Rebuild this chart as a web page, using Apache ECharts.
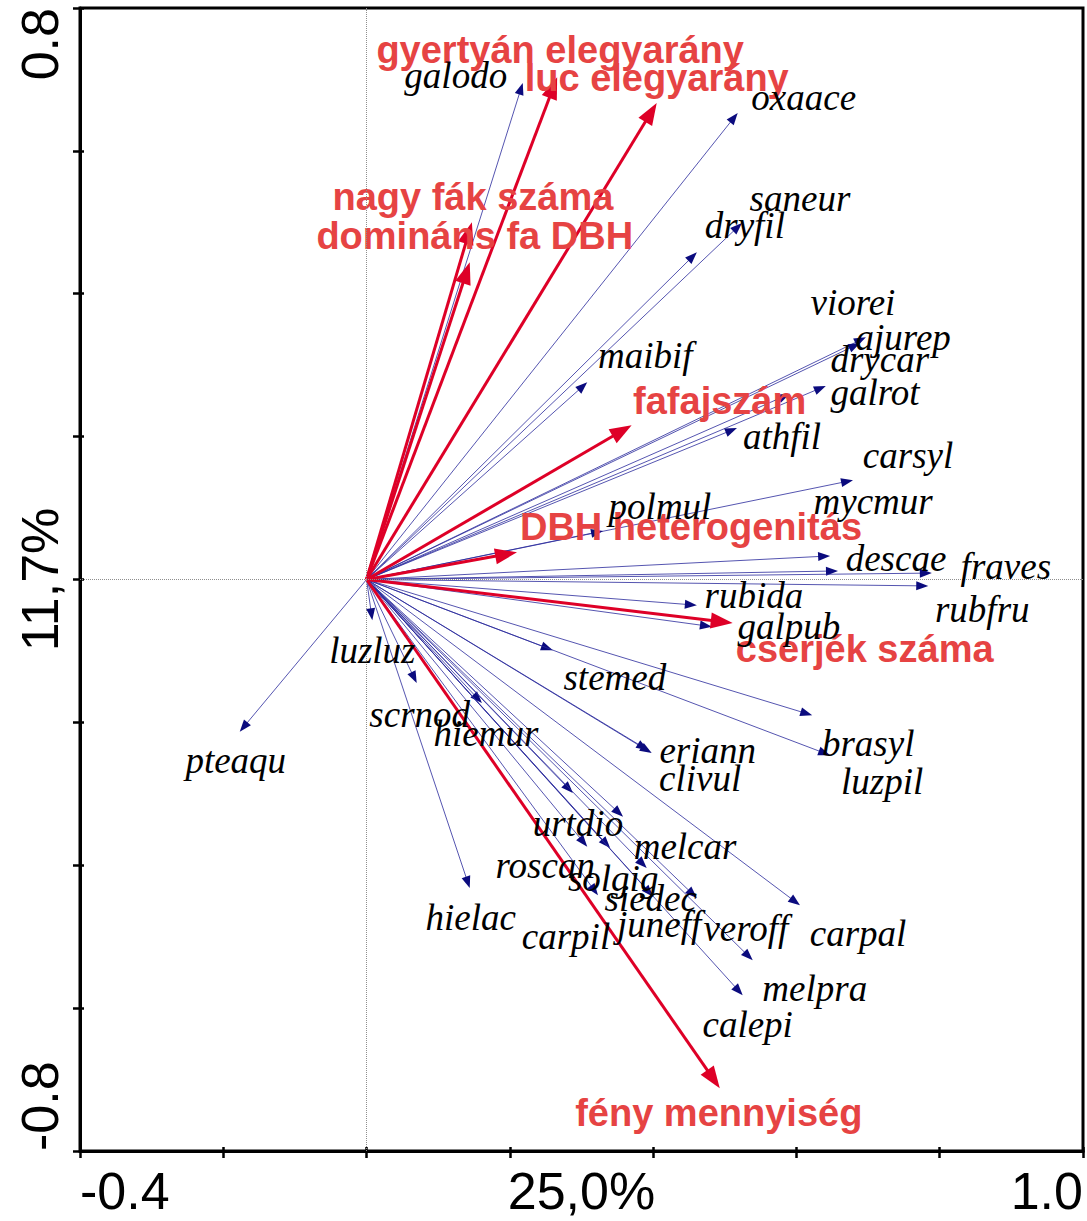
<!DOCTYPE html>
<html>
<head>
<meta charset="utf-8">
<script src="https://cdn.jsdelivr.net/npm/echarts@6/dist/echarts.min.js"></script>
<style>
  html, body { margin: 0; padding: 0; background: #fff; }
  #chart { width: 1087px; height: 1221px; }
</style>
</head>
<body>
<div id="chart"></div>
<script>
// Species scores (arrow tips) of the ordination biplot
const speciesNames = ['galodo','oxaace','saneur','dryfil','maibif','viorei','ajurep','drycar','galrot','athfil',
  'carsyl','mycmur','polmul','descae','fraves','rubfru','rubida','galpub','stemed','luzluz',
  'scrnod','hiemur','pteaqu','eriann','clivul','brasyl','luzpil','urtdio','melcar','roscan',
  'solgig','siedec','juneff','veroff','carpal','hielac','carpil','melpra','calepi'];
const speciesX = [0.218,0.518,0.524,0.461,0.308,0.697,0.689,0.641,0.591,0.517,
  0.679,0.647,0.330,0.658,0.789,0.784,0.461,0.482,0.260,0.008,
  0.070,0.161,-0.177,0.398,0.393,0.622,0.647,0.288,0.358,0.308,
  0.340,0.391,0.400,0.461,0.605,0.144,0.323,0.539,0.525];
const speciesY = [0.695,0.653,0.499,0.458,0.276,0.339,0.331,0.271,0.260,0.212,
  0.139,0.033,0.068,0.012,0.009,-0.009,-0.036,-0.066,-0.099,-0.057,
  -0.145,-0.173,-0.213,-0.243,-0.239,-0.190,-0.246,-0.299,-0.332,-0.374,
  -0.376,-0.404,-0.444,-0.446,-0.456,-0.432,-0.442,-0.533,-0.582];

// Environmental variables (explanatory arrows)
const envNames = ['gyertyán elegyarány','luc elegyarány','nagy fák száma','domináns fa DBH',
  'fafajszám','DBH heterogenitás','cserjék száma','fény mennyiség'];
const envX = [0.266,0.405,0.147,0.144,0.370,0.210,0.511,0.493];
const envY = [0.703,0.667,0.500,0.444,0.216,0.038,-0.061,-0.712];

// Axis ranges and the labelled ticks
const xRange = [-0.4, 1.0];
const yRange = [-0.8, 0.8];
const xTickLabels = ['-0.4', '1.0'];
const yTickLabels = ['-0.8', '0.8'];
const xAxisTitle = '25,0%';
const yAxisTitle = '11,7%';

// Label placement: pixel offset of each label centre from its arrow tip
const speciesLabelOffset = {
  galodo:[-67,-8], oxaace:[66,-16], saneur:[58,-25], dryfil:[48,-27], maibif:[58,-27],
  viorei:[-13,-35], ajurep:[43,-6], drycar:[54,-26], galrot:[85,-1], athfil:[45,8],
  carsyl:[55,-25], mycmur:[43,-54], polmul:[57,-24], descae:[58,-12], fraves:[74,-7],
  rubfru:[54,24], rubida:[57,-10], galpub:[77,0], stemed:[62,27], luzluz:[0,30],
  scrnod:[3,31], hiemur:[4,30], pteaqu:[-4,29], eriann:[56,-3], clivul:[52,28],
  brasyl:[56,28], luzpil:[52,26], urtdio:[5,30], melcar:[62,30], roscan:[-42,19],
  solgig:[3,30], siedec:[4,30], juneff:[6,28], veroff:[49,30], carpal:[58,28],
  hielac:[1,29], carpil:[-32,41], melpra:[62,28], calepi:[5,29]
};
const envLabelOffset = [[3,-27],[0,-25],[1,-25],[5,-26],[88,-24],[174,-25],[132,26],[-1,25]];

const SPECIES_LINE = '#2a2a9c';
const SPECIES_HEAD = '#0b0b7e';
const ENV_COLOR = '#de0027';
const ENV_TEXT = '#e64343';

function arrow(api, x, y, headLen, headHalf, lineWidth, lineColor, headColor) {
  const o = api.coord([0, 0]);
  const p = api.coord([x, y]);
  const dx = p[0] - o[0], dy = p[1] - o[1];
  const len = Math.hypot(dx, dy) || 1;
  const ux = dx / len, uy = dy / len;
  const bx = p[0] - ux * headLen, by = p[1] - uy * headLen;
  const nx = -uy, ny = ux;
  return [
    { type: 'line', shape: { x1: o[0], y1: o[1], x2: bx + ux, y2: by + uy },
      style: { stroke: lineColor, lineWidth: lineWidth } },
    { type: 'polygon', shape: { points: [[p[0], p[1]],
        [bx + nx * headHalf, by + ny * headHalf], [bx - nx * headHalf, by - ny * headHalf]] },
      style: { fill: headColor } }
  ];
}

function textEl(api, x, y, off, text, font, color) {
  const p = api.coord([x, y]);
  return {
    type: 'text', x: p[0] + off[0], y: p[1] + off[1],
    style: { text: text, font: font, fill: color,
      align: 'center', verticalAlign: 'middle', textAlign: 'center', textVerticalAlign: 'middle' }
  };
}

const speciesData = speciesX.map((x, i) => [x, speciesY[i]]);
const envData = envX.map((x, i) => [x, envY[i]]);

function fmtTick(labels) {
  return function (v) {
    for (const s of labels) if (Math.abs(parseFloat(s) - v) < 1e-6) return s;
    return '';
  };
}

const axisFont = 'Liberation Sans, Arial, sans-serif';

const chart = echarts.init(document.getElementById('chart'), null, { renderer: 'svg' });
chart.setOption({
  animation: false,
  backgroundColor: '#fff',
  grid: { left: 80, right: 4, top: 8, bottom: 70, containLabel: false, outerBoundsMode: 'none',
    show: true, borderColor: '#000', borderWidth: 3 },
  xAxis: [{
    type: 'value', min: xRange[0], max: xRange[1], interval: 0.2, position: 'bottom',
    axisLine: { show: true, onZero: false, lineStyle: { color: '#000', width: 3 } },
    axisTick: { show: true, inside: false, length: 7, lineStyle: { color: '#000', width: 2.5 } },
    axisLabel: { show: true, formatter: fmtTick(xTickLabels), fontSize: 52, color: '#000',
      fontFamily: axisFont, margin: 14, alignMinLabel: 'left', alignMaxLabel: 'right' },
    splitLine: { show: false },
    name: xAxisTitle, nameLocation: 'middle', nameGap: 14, nameMoveOverlap: false,
    nameTextStyle: { fontSize: 52, color: '#000', fontFamily: axisFont, verticalAlign: 'top' }
  }, {
    type: 'value', min: xRange[0], max: xRange[1], interval: 0.2, position: 'bottom',
    axisLine: { show: false, onZero: false }, axisLabel: { show: false }, splitLine: { show: false },
    axisTick: { show: true, inside: true, length: 4, lineStyle: { color: '#000', width: 2.5 } }
  }],
  yAxis: [{
    type: 'value', min: yRange[0], max: yRange[1], interval: 0.2, position: 'left',
    axisLine: { show: true, onZero: false, lineStyle: { color: '#000', width: 3 } },
    axisTick: { show: true, inside: false, length: 7, lineStyle: { color: '#000', width: 2.5 } },
    axisLabel: { show: true, formatter: fmtTick(yTickLabels), fontSize: 52, color: '#000',
      fontFamily: axisFont, rotate: 90, margin: 14, alignMinLabel: 'left', alignMaxLabel: 'right' },
    splitLine: { show: false },
    name: yAxisTitle, nameLocation: 'middle', nameGap: 14, nameRotate: 90, nameMoveOverlap: false,
    nameTextStyle: { fontSize: 52, color: '#000', fontFamily: axisFont, verticalAlign: 'bottom' }
  }, {
    type: 'value', min: yRange[0], max: yRange[1], interval: 0.2, position: 'left',
    axisLine: { show: false, onZero: false }, axisLabel: { show: false }, splitLine: { show: false },
    axisTick: { show: true, inside: true, length: 4, lineStyle: { color: '#000', width: 2.5 } }
  }],
  series: [
    {
      type: 'custom', name: 'species', z: 2, data: speciesData,
      renderItem: (params, api) => ({
        type: 'group',
        children: arrow(api, api.value(0), api.value(1), 12, 4.5, 0.8, SPECIES_LINE, SPECIES_HEAD)
      }),
      markLine: {
        silent: true, symbol: 'none', label: { show: false },
        lineStyle: { type: 'dotted', color: '#8e8e8e', width: 1 },
        data: [{ xAxis: 0 }, { yAxis: 0 }]
      }
    },
    {
      type: 'custom', name: 'environment', z: 3, data: envData,
      renderItem: (params, api) => ({
        type: 'group',
        children: arrow(api, api.value(0), api.value(1), 22, 8, 3, ENV_COLOR, ENV_COLOR)
      })
    },
    {
      type: 'custom', name: 'environment labels', z: 4, data: envData,
      renderItem: (params, api) => textEl(api, api.value(0), api.value(1),
        envLabelOffset[params.dataIndex], envNames[params.dataIndex],
        'bold 38px "Liberation Sans", Arial, sans-serif', ENV_TEXT)
    },
    {
      type: 'custom', name: 'species labels', z: 5, data: speciesData,
      renderItem: (params, api) => {
        const n = speciesNames[params.dataIndex];
        return textEl(api, api.value(0), api.value(1), speciesLabelOffset[n], n,
          'italic 37px "Liberation Serif", "Times New Roman", serif', '#000');
      }
    }
  ]
});
</script>
</body>
</html>
